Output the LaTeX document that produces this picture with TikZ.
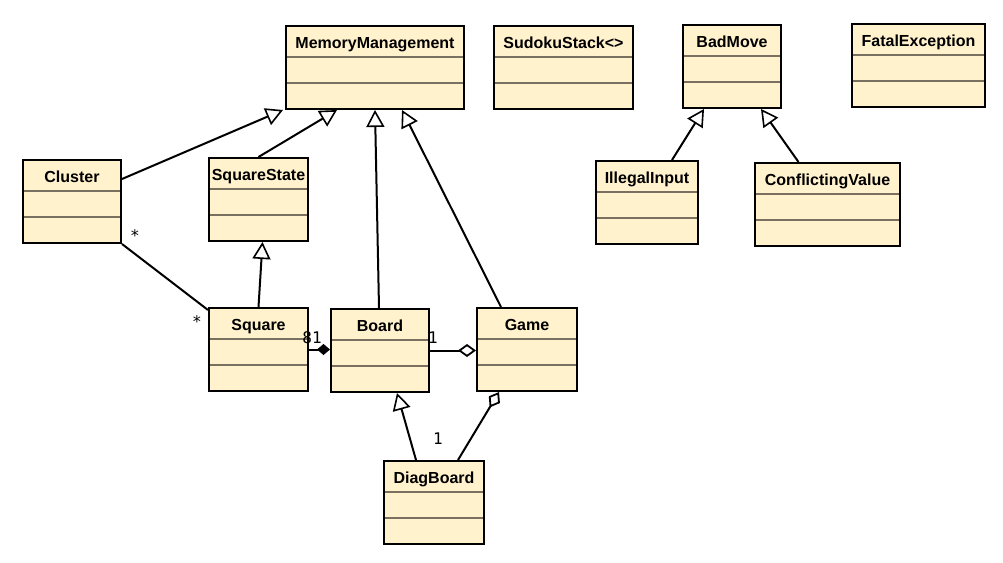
\documentclass[tikz,border=0pt]{standalone}
\usepackage{fontspec}
\setmainfont{Liberation Sans}
\newfontfamily\monofont{DejaVu Sans Mono}
\usetikzlibrary{arrows.meta,calc}
\definecolor{classfill}{RGB}{255,242,204}
\definecolor{divider}{RGB}{122,112,96}

\begin{document}
\begin{tikzpicture}[x=1pt,y=-1pt,
  umlclass/.style={draw=black, line width=2pt, fill=classfill, inner sep=0pt,
    text height=22pt, text depth=61pt, anchor=north west,
    font=\fontsize{16}{19}\selectfont\bfseries,
    path picture={
      \draw[divider,line width=1.7pt]
        ($(path picture bounding box.north west)+(0,31)$) -- ($(path picture bounding box.north east)+(0,31)$)
        ($(path picture bounding box.north west)+(0,57)$) -- ($(path picture bounding box.north east)+(0,57)$);
    }},
  link/.style={line width=2pt, black},
  inherit/.style={link, -{Triangle[fill=white,length=17pt,width=18pt,line width=1.6pt]}},
  compose/.style={link, -{Diamond[length=13pt,width=11pt]}},
  aggregate/.style={link, -{Diamond[fill=white,length=18pt,width=13pt,line width=1.8pt]}},
  mult/.style={inner sep=0pt, font=\monofont\fontsize{16}{19}\selectfont},
]
\useasboundingbox (0,0) rectangle (1003,562);

% classes
\node[umlclass, minimum width=178pt] (mm)  at (285,25)  {MemoryManagement};
\node[umlclass, minimum width=139pt] (ss)  at (493,25)  {SudokuStack<>};
\node[umlclass, minimum width=98pt]  (bm)  at (682,24)  {BadMove};
\node[umlclass, minimum width=133pt] (fe)  at (851,23)  {FatalException};
\node[umlclass, minimum width=98pt]  (cl)  at (22,159)  {Cluster};
\node[umlclass, minimum width=99pt]  (sst) at (208,157) {SquareState};
\node[umlclass, minimum width=102pt] (ii)  at (595,160) {IllegalInput};
\node[umlclass, minimum width=145pt] (cv)  at (754,162) {ConflictingValue};
\node[umlclass, minimum width=99pt]  (sq)  at (208,307) {Square};
\node[umlclass, minimum width=98pt]  (bd)  at (330,308) {Board};
\node[umlclass, minimum width=100pt] (gm)  at (476,307) {Game};
\node[umlclass, minimum width=100pt] (db)  at (383,460) {DiagBoard};

% generalisations
\draw[inherit] ($(cl.north east)+(0,20)$) -- ($(mm.south west)+(-2,0)$);
\draw[inherit] (sst.north) -- ($(mm.south west)+(52,0)$);
\draw[inherit] ($(bd.north)+(-1,0)$) -- ($(mm.south west)+(90,0)$);
\draw[inherit] ($(gm.north)+(-26,0)$) -- ($(mm.south west)+(117,0)$);
\draw[inherit] (sq.north) -- ($(sst.south)+(4,0)$);
\draw[inherit] ($(db.north west)+(33,0)$) -- ($(bd.south)+(17,0)$);
\draw[inherit] ($(ii.north)+(25,0)$) -- ($(bm.south)+(-28,0)$);
\draw[inherit] ($(cv.north)+(-29,0)$) -- ($(bm.south)+(29,0)$);

% associations
\draw[link] (cl.south east) -- ($(sq.north west)+(0,3)$);
\draw[compose] (sq.east) -- (sq.east -| bd.west);
\draw[aggregate] (bd.east) -- (bd.east -| gm.west);
\draw[aggregate] ($(db.north west)+(75,0)$) -- ($(gm.south)+(-28,0)$);

% multiplicities
\node[mult] (m1) at (135,236) {*};
\node[mult] (m2) at (197,322) {*};
\node[mult] (m3) at (312,338) {81};
\node[mult] (m4) at (433,338) {1};
\node[mult] (m5) at (438,439) {1};
\end{tikzpicture}
\end{document}
